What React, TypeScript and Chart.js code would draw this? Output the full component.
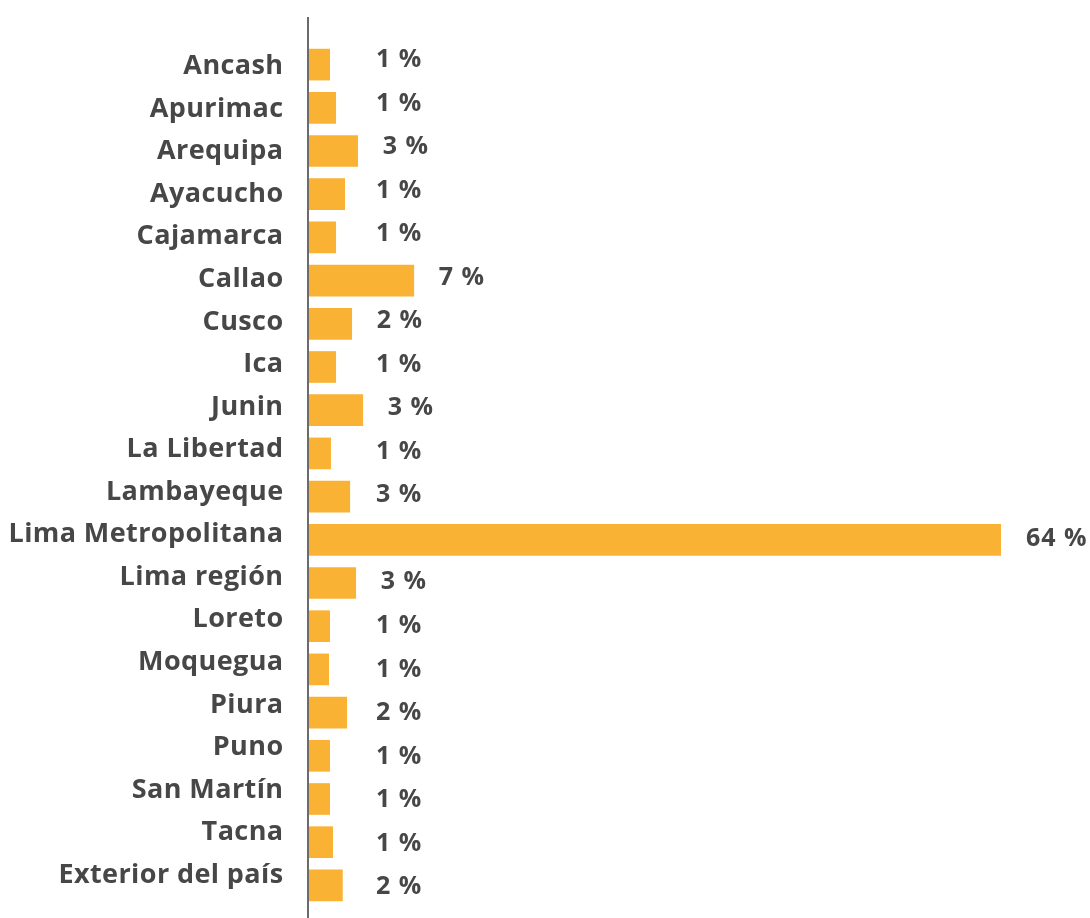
import React, { useEffect, useRef } from "react";
import { Chart, registerables } from "chart.js";

Chart.register(...registerables);

const categories: string[] = [
  "Ancash", "Apurimac", "Arequipa", "Ayacucho", "Cajamarca", "Callao", "Cusco", "Ica", "Junin",
  "La Libertad", "Lambayeque", "Lima Metropolitana", "Lima región", "Loreto", "Moquegua", "Piura",
  "Puno", "San Martín", "Tacna", "Exterior del país",
];

// bar lengths (scaled so Lima Metropolitana = 64)
const barValues: number[] = [
  1.91, 2.47, 4.5, 3.3, 2.47, 9.69, 3.95, 2.47, 4.97, 2.0, 3.77, 64, 4.32, 1.91, 1.82, 3.49, 1.91,
  1.91, 2.19, 3.09,
];

// printed percentage labels
const percentLabels: number[] = [1, 1, 3, 1, 1, 7, 2, 1, 3, 1, 3, 64, 3, 1, 1, 2, 1, 1, 1, 2];

const BAR_COLOR = "#F9B233";
const TEXT_COLOR = "#474747";
const FONT = "'Open Sans', sans-serif";

export default function App() {
  const ref = useRef<HTMLCanvasElement | null>(null);

  useEffect(() => {
    if (!ref.current) return;

    const spacing = {
      id: "spacing",
      beforeDraw(chart: any) {
        chart.ctx.letterSpacing = "0.4px";
      },
    };

    const axisLine = {
      id: "axisLine",
      afterDraw(chart: any) {
        const { ctx, chartArea } = chart;
        const x0 = chart.scales.x.getPixelForValue(0) - 1;
        ctx.save();
        ctx.strokeStyle = "#6b6b6b";
        ctx.lineWidth = 2;
        ctx.beginPath();
        ctx.moveTo(x0, chartArea.top - 26);
        ctx.lineTo(x0, chart.height);
        ctx.stroke();
        ctx.restore();
      },
    };

    const valueLabels = {
      id: "valueLabels",
      afterDatasetsDraw(chart: any) {
        const { ctx } = chart;
        const meta = chart.getDatasetMeta(0);
        const xs = chart.scales.x;
        const yv = chart.scales.yv;
        const zero = xs.getPixelForValue(0);
        ctx.save();
        ctx.letterSpacing = "1px";
        ctx.fillStyle = TEXT_COLOR;
        ctx.font = `bold 25px ${FONT}`;
        ctx.textAlign = "left";
        ctx.textBaseline = "middle";
        meta.data.forEach((bar: any, i: number) => {
          const x = Math.max(zero + 67, bar.x + 25);
          const y = yv.getPixelForValue(i);
          ctx.fillText(`${percentLabels[i]} %`, x, y);
        });
        ctx.restore();
      },
    };

    const chart = new Chart(ref.current, {
      type: "bar",
      data: {
        labels: categories,
        datasets: [
          {
            data: barValues,
            backgroundColor: BAR_COLOR,
            borderWidth: 0,
            barThickness: 31,
            xAxisID: "x",
            yAxisID: "y",
          },
        ],
      },
      options: {
        indexAxis: "y",
        animation: false,
        responsive: true,
        maintainAspectRatio: false,
        layout: { padding: { top: 43, bottom: 11, right: 89, left: 0 } },
        plugins: { legend: { display: false }, tooltip: { enabled: false } },
        scales: {
          x: { display: false, min: 0, max: 64 },
          y: { display: false, offset: true },
          yl: {
            type: "linear",
            position: "left",
            reverse: true,
            offset: false,
            bounds: "data",
            min: -0.555,
            max: 19.752,
            grid: { display: false, drawTicks: false },
            border: { display: false },
            afterBuildTicks: (scale: any) => {
              scale.ticks = categories.map((_, i) => ({ value: i }));
            },
            afterFit: (scale: any) => {
              scale.width = 309;
              scale.paddingTop = 0;
              scale.paddingBottom = 0;
            },
            ticks: {
              autoSkip: false,
              padding: 25.5,
              color: TEXT_COLOR,
              font: { family: FONT, weight: "bold", size: 27 },
              callback: (value: any) => categories[Number(value)] ?? "",
            },
          },
          yv: {
            type: "linear",
            display: false,
            reverse: true,
            offset: false,
            bounds: "data",
            min: -0.393,
            max: 19.46,
          },
        },
      } as any,
      plugins: [spacing, axisLine, valueLabels],
    });

    return () => chart.destroy();
  }, []);

  return (
    <div style={{ position: "fixed", left: 0, top: 0, width: 1090, height: 918, background: "#fff" }}>
      <canvas ref={ref} />
    </div>
  );
}
